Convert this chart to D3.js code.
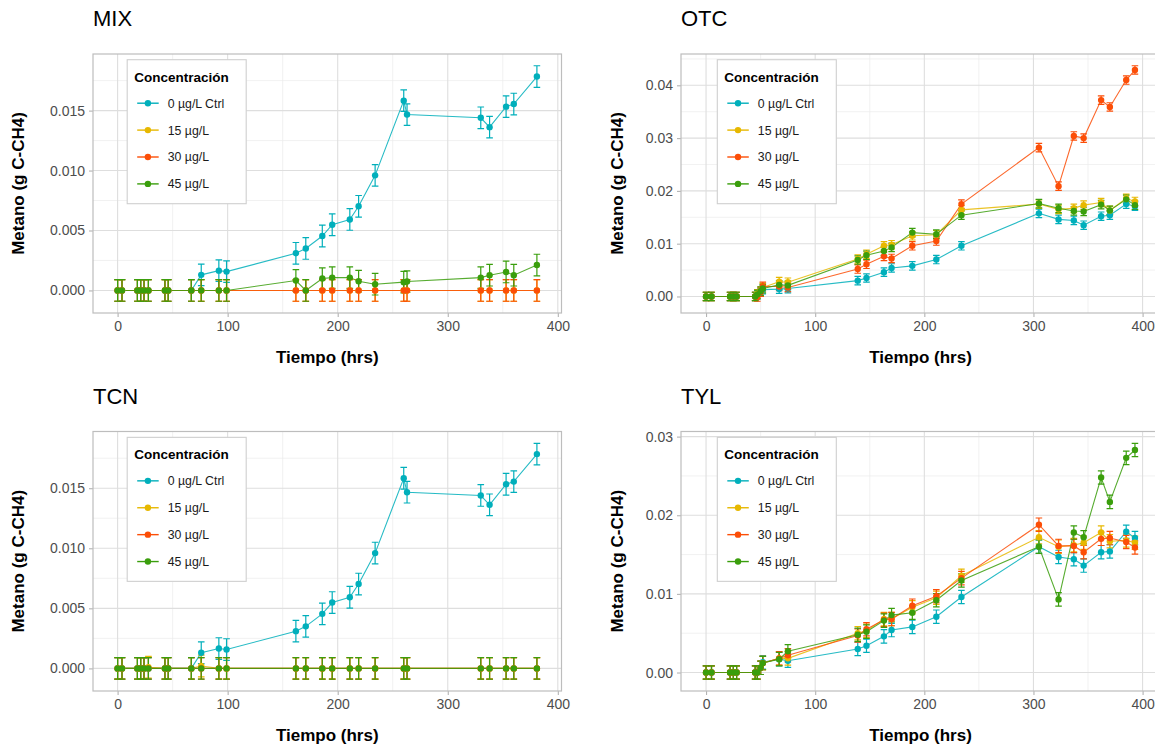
<!DOCTYPE html>
<html>
<head>
<meta charset="utf-8">
<script src="https://cdn.jsdelivr.net/npm/d3@7"></script>
<style>
  html, body { margin: 0; padding: 0; background: #ffffff; }
  svg { display: block; font-family: "Liberation Sans", Arial, sans-serif; }
</style>
</head>
<body>
<svg id="chart" width="1155" height="750"></svg>
<script>
// ---- Data ---------------------------------------------------------------
const groups = ["0 µg/L Ctrl", "15 µg/L", "30 µg/L", "45 µg/L"];
const groupColors = ["#00AFBB", "#E7B800", "#FC4E07", "#3A9E0C"];

// sampling times (hrs)
const timesA = [0, 4, 18, 21, 24, 28, 43, 46, 67, 76, 92, 99, 162, 171, 186, 195,
                211, 219, 234, 260, 263, 330, 338, 353, 360, 381];
const timesB = [0, 5, 22, 25, 28, 45, 47, 50, 52, 67, 75, 139, 147, 163, 170, 189,
                211, 234, 305, 323, 337, 346, 362, 370, 385, 393];

// control series shared by MIX and TCN
const ctrlA = [0, 0, 0, 0, 0, 0, 0, 0, 0, 0.0013, 0.00165, 0.00157, 0.0031, 0.0035,
               0.00454, 0.00548, 0.00592, 0.00702, 0.0096, 0.01583, 0.01467, 0.0144,
               0.01362, 0.01533, 0.01555, 0.01784];

const mix15 = [0, 0, 0, 0, 0, 0, 0, 0, 0, 0, 0, 0, 0, 0, 0, 0, 0, 0, 0, 0, 0, 0, 0, 0, 0, 0];
const mix30 = [0, 0, 0, 0, 0, 0, 0, 0, 0, 0, 0, 0, 0, 0, 0, 0, 0, 0, 0, 0, 0, 0, 0, 0, 0, 0];
const mix45 = [0, 0, 0, 0, 0, 0, 0, 0, 0, 0, 0, 0, 0.00083, 0, 0.00099, 0.00107, 0.00107,
               0.00077, 0.00052, 0.00069, 0.00074, 0.00107, 0.00127, 0.00154, 0.00127, 0.00212];
const mixSE = [0.0009, 0.0009, 0.0009, 0.0009];

const tcn15 = [0, 0, 0, 0, 0, 0.0001, 0, 0, 0, 0.0002, 0, 0, 0, 0, 0, 0, 0, 0, 0, 0, 0, 0, 0, 0, 0, 0];
const tcn30 = [0, 0, 0, 0, 0, 0, 0, 0, 0, 0, 0, 0, 0, 0, 0, 0, 0, 0, 0, 0, 0, 0, 0, 0, 0, 0];
const tcn45 = [0, 0, 0, 0, 0, 0, 0, 0, 0, 0, 0, 0, 0, 0, 0, 0, 0, 0, 0, 0, 0, 0, 0, 0, 0, 0];
const tcnSE = [0.0009, 0.0009, 0.0009, 0.0009];

const otc0  = [0, 0, 0, 0, 0, 0, 0.0003, 0.0008, 0.0013, 0.0014, 0.0015, 0.003, 0.0035, 0.0046,
               0.0054, 0.0058, 0.007, 0.0096, 0.01575, 0.0146, 0.0144, 0.0135, 0.0152, 0.0154,
               0.0175, 0.0171];
const otc15 = [0, 0, 0, 0, 0, 0, 0.0005, 0.001, 0.0017, 0.0028, 0.0027, 0.0071, 0.008, 0.0096,
               0.0098, 0.0115, 0.0117, 0.0164, 0.0175, 0.0165, 0.0167, 0.0173, 0.0178, 0.0163,
               0.0186, 0.018];
const otc30 = [0, 0, 0, 0, 0, 0, -0.0001, 0.0008, 0.0019, 0.0019, 0.0017, 0.0052, 0.0061, 0.0076,
               0.0072, 0.0096, 0.0105, 0.0175, 0.0282, 0.0209, 0.0304, 0.030, 0.0372, 0.0359,
               0.041, 0.0429];
const otc45 = [0, 0, 0, 0, 0, 0, 0.0004, 0.001, 0.0015, 0.0022, 0.0021, 0.0069, 0.0078, 0.0086,
               0.0093, 0.0121, 0.0118, 0.0154, 0.0176, 0.0167, 0.0162, 0.0161, 0.0174, 0.0163,
               0.0184, 0.0173];
const otcSE = [0.0008, 0.0008, 0.0008, 0.0008];

const tyl0  = [0, 0, 0, 0, 0, 0, 0, 0.0006, 0.0013, 0.0017, 0.0015, 0.003, 0.0034, 0.0046,
               0.0054, 0.0058, 0.0071, 0.0096, 0.016, 0.0147, 0.0144, 0.0136, 0.0153, 0.0154,
               0.0179, 0.0171];
const tyl15 = [0, 0, 0, 0, 0, 0, 0, 0.0006, 0.0012, 0.0018, 0.0018, 0.005, 0.0053, 0.0068,
               0.0068, 0.0083, 0.0095, 0.0123, 0.0172, 0.016, 0.0162, 0.0165, 0.0178, 0.0167,
               0.0168, 0.0165];
const tyl30 = [0, 0, 0, 0, 0, 0, 0, 0.0006, 0.0012, 0.0018, 0.0022, 0.0047, 0.0055, 0.0067,
               0.0068, 0.0085, 0.0097, 0.012, 0.0188, 0.0161, 0.0161, 0.0153, 0.017, 0.0171,
               0.0166, 0.0159];
const tyl45 = [0, 0, 0, 0, 0, 0, 0, 0.0006, 0.0012, 0.0017, 0.0027, 0.0048, 0.0052, 0.0066,
               0.0073, 0.0076, 0.0092, 0.0117, 0.016, 0.0093, 0.0178, 0.0172, 0.0248, 0.0217,
               0.0273, 0.0283];
const tylSE = [0.00085, 0.00085, 0.00085, 0.00085];

const xTicks = [0, 100, 200, 300, 400];
const yTicksSmall = [0, 0.005, 0.010, 0.015];
const yTicksOtc = [0, 0.01, 0.02, 0.03, 0.04];
const yTicksTyl = [0, 0.01, 0.02, 0.03];

const xTitle = "Tiempo (hrs)";
const yTitle = "Metano (g C-CH4)";
const legendTitle = "Concentración";

// ---- Panels ---------------------------------------------------------------
const panels = [
  { title: "MIX", times: timesA, series: [ctrlA, mix15, mix30, mix45], se: mixSE,
    yTicks: yTicksSmall, fmt: d3.format(".3f"),
    box: { left: 93, right: 561.5, top: 54, bottom: 313 }, yTitleX: 18.5 },
  { title: "OTC", times: timesB, series: [otc0, otc15, otc30, otc45], se: otcSE,
    yTicks: yTicksOtc, fmt: d3.format(".2f"),
    box: { left: 681, right: 1160, top: 54, bottom: 313 }, yTitleX: 617.5 },
  { title: "TCN", times: timesA, series: [ctrlA, tcn15, tcn30, tcn45], se: tcnSE,
    yTicks: yTicksSmall, fmt: d3.format(".3f"),
    box: { left: 93, right: 561.5, top: 431.5, bottom: 691 }, yTitleX: 18.5 },
  { title: "TYL", times: timesB, series: [tyl0, tyl15, tyl30, tyl45], se: tylSE,
    yTicks: yTicksTyl, fmt: d3.format(".2f"),
    box: { left: 681, right: 1160, top: 431.5, bottom: 691 }, yTitleX: 617.5 }
];

const capWidth = 6; // error-bar cap width in hours

const svg = d3.select("#chart");

function expand(lo, hi, frac) {
  const pad = (hi - lo) * frac;
  return [lo - pad, hi + pad];
}

panels.forEach((p, pi) => {
  const b = p.box;
  const xDom = expand(d3.min(p.times) - capWidth / 2, d3.max(p.times) + capWidth / 2, 0.05);
  const allLo = d3.min(p.series, (s, si) => d3.min(s, v => v - p.se[si]));
  const allHi = d3.max(p.series, (s, si) => d3.max(s, v => v + p.se[si]));
  const yDom = expand(allLo, allHi, 0.05);

  const x = d3.scaleLinear().domain(xDom).range([b.left, b.right]);
  const y = d3.scaleLinear().domain(yDom).range([b.bottom, b.top]);

  const g = svg.append("g").attr("class", "panel-" + p.title);

  const clipId = "clip" + pi;
  svg.append("clipPath").attr("id", clipId)
    .append("rect").attr("x", b.left).attr("y", b.top)
    .attr("width", b.right - b.left).attr("height", b.bottom - b.top);

  // grid: minor lines halfway between major ticks
  const xStep = xTicks[1] - xTicks[0];
  const yStep = p.yTicks[1] - p.yTicks[0];
  const xMinor = d3.range(xTicks[0] - xStep / 2, xDom[1], xStep).filter(v => v > xDom[0] && v < xDom[1]);
  const yMinor = d3.range(p.yTicks[0] - yStep / 2, yDom[1], yStep).filter(v => v > yDom[0] && v < yDom[1]);

  const grid = g.append("g").attr("clip-path", `url(#${clipId})`);
  grid.selectAll(".xminor").data(xMinor).join("line")
    .attr("x1", d => x(d)).attr("x2", d => x(d)).attr("y1", b.top).attr("y2", b.bottom)
    .attr("stroke", "#EBEBEB").attr("stroke-width", 0.7);
  grid.selectAll(".yminor").data(yMinor).join("line")
    .attr("y1", d => y(d)).attr("y2", d => y(d)).attr("x1", b.left).attr("x2", b.right)
    .attr("stroke", "#EBEBEB").attr("stroke-width", 0.7);
  grid.selectAll(".xmajor").data(xTicks).join("line")
    .attr("x1", d => x(d)).attr("x2", d => x(d)).attr("y1", b.top).attr("y2", b.bottom)
    .attr("stroke", "#DEDEDE").attr("stroke-width", 1.1);
  grid.selectAll(".ymajor").data(p.yTicks).join("line")
    .attr("y1", d => y(d)).attr("y2", d => y(d)).attr("x1", b.left).attr("x2", b.right)
    .attr("stroke", "#DEDEDE").attr("stroke-width", 1.1);

  // axes
  const xAxis = d3.axisBottom(x).tickValues(xTicks).tickSize(4).tickPadding(4);
  const yAxis = d3.axisLeft(y).tickValues(p.yTicks).tickFormat(p.fmt).tickSize(4).tickPadding(4);
  const gx = g.append("g").attr("transform", `translate(0,${b.bottom})`).call(xAxis);
  const gy = g.append("g").attr("transform", `translate(${b.left},0)`).call(yAxis);
  [gx, gy].forEach(ax => {
    ax.select(".domain").remove();
    ax.selectAll(".tick line").attr("stroke", "#B3B3B3").attr("stroke-width", 1.1);
    ax.selectAll(".tick text").attr("fill", "#4D4D4D").attr("font-size", 14)
      .attr("font-family", "Liberation Sans, Arial, sans-serif");
  });

  // panel border
  g.append("rect").attr("x", b.left).attr("y", b.top)
    .attr("width", b.right - b.left).attr("height", b.bottom - b.top)
    .attr("fill", "none").attr("stroke", "#BDBDBD").attr("stroke-width", 1.2);

  // data layers: lines, error bars, points
  const plot = g.append("g").attr("clip-path", `url(#${clipId})`);
  const line = d3.line().x(d => x(d.t)).y(d => y(d.v));
  const seriesData = p.series.map((s, si) => s.map((v, i) => ({ t: p.times[i], v, e: p.se[si] })));

  seriesData.forEach((sd, si) => {
    plot.append("path").datum(sd).attr("d", line)
      .attr("fill", "none").attr("stroke", groupColors[si])
      .attr("stroke-width", 1.1).attr("stroke-opacity", 0.85);
  });
  seriesData.forEach((sd, si) => {
    const eb = plot.append("g").attr("stroke", groupColors[si])
      .attr("stroke-width", 1.2).attr("fill", "none");
    eb.selectAll("path").data(sd).join("path")
      .attr("d", d => {
        const x0 = x(d.t - capWidth / 2), x1 = x(d.t + capWidth / 2), xm = x(d.t);
        const yl = y(d.v - d.e), yh = y(d.v + d.e);
        return `M${x0},${yh}H${x1}M${xm},${yh}V${yl}M${x0},${yl}H${x1}`;
      });
  });
  seriesData.forEach((sd, si) => {
    plot.append("g").selectAll("circle").data(sd).join("circle")
      .attr("cx", d => x(d.t)).attr("cy", d => y(d.v)).attr("r", 3.2)
      .attr("fill", groupColors[si]);
  });

  // titles
  g.append("text").attr("x", b.left).attr("y", b.top - 28)
    .attr("font-size", 22).attr("fill", "#000").text(p.title);
  g.append("text").attr("x", (b.left + b.right) / 2)
    .attr("y", b.bottom + 50).attr("text-anchor", "middle")
    .attr("font-size", 17).attr("font-weight", "bold").attr("fill", "#000").text(xTitle);
  g.append("text")
    .attr("transform", `translate(${p.yTitleX},${(b.top + b.bottom) / 2}) rotate(-90)`)
    .attr("text-anchor", "middle").attr("dy", "0.35em")
    .attr("font-size", 17).attr("font-weight", "bold").attr("fill", "#000").text(yTitle);

  // legend
  const lgW = 119, lgH = 144;
  const lgX = b.left + 0.2 * (b.right - b.left) - lgW / 2;
  const lgY = b.bottom - 0.7 * (b.bottom - b.top) - lgH / 2;
  const lg = g.append("g").attr("transform", `translate(${lgX},${lgY})`);
  lg.append("rect").attr("width", lgW).attr("height", lgH)
    .attr("fill", "#fff").attr("stroke", "#CFCFCF").attr("stroke-width", 1.1);
  lg.append("text").attr("x", 7).attr("y", 22).attr("font-size", 13.5)
    .attr("font-weight", "bold").attr("fill", "#000").text(legendTitle);
  const items = lg.selectAll(".item").data(groups).join("g")
    .attr("transform", (d, i) => `translate(0,${43.5 + i * 26.9})`);
  items.append("line").attr("x1", 10).attr("x2", 31.5)
    .attr("stroke", (d, i) => groupColors[i]).attr("stroke-width", 1.4);
  items.append("circle").attr("cx", 20.7).attr("r", 3.2).attr("fill", (d, i) => groupColors[i]);
  items.append("text").attr("x", 40.5).attr("dy", "0.36em").attr("font-size", 12.3)
    .attr("fill", "#1A1A1A").text(d => d);
});
</script>
</body>
</html>
